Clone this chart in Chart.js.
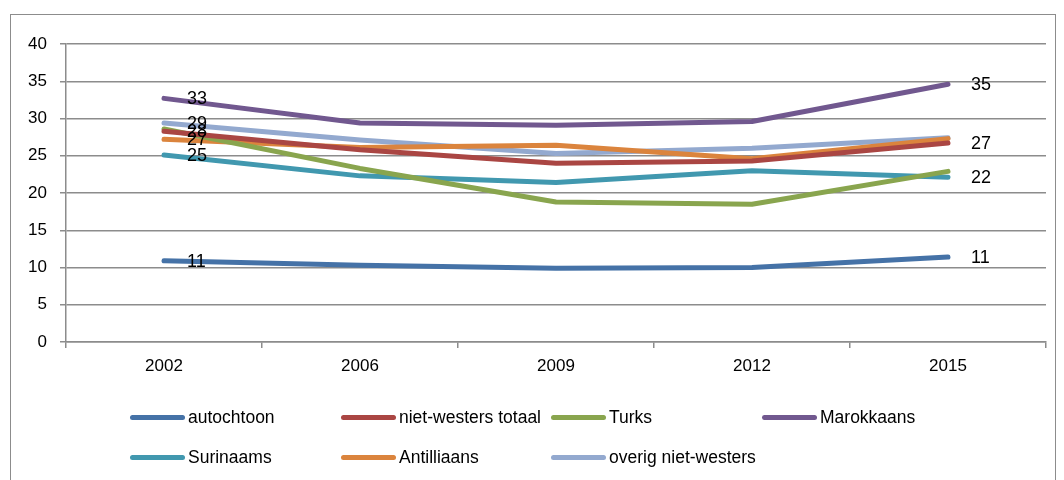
<!DOCTYPE html>
<html><head><meta charset="utf-8">
<script src="https://cdn.jsdelivr.net/npm/chart.js@4.4.1/dist/chart.umd.min.js"></script>
<style>
html,body{margin:0;padding:0;background:#fff;}
#wrap{position:relative;width:1064px;height:480px;overflow:hidden;font-family:"Liberation Sans",Arial,sans-serif;}
#frame{position:absolute;left:10px;top:14px;width:1046px;height:480px;border:1.5px solid #8c8c8c;box-sizing:border-box;}
canvas{position:absolute;left:0;top:0;}
#legend{position:absolute;left:0;top:0;width:1064px;height:480px;pointer-events:none;}
.li{position:absolute;display:flex;align-items:center;font-size:17.5px;color:#000;white-space:nowrap;}
.sw{width:55px;height:5px;border-radius:3px;margin-right:3px;}
</style></head>
<body>
<div id="wrap">
<div id="frame"></div>
<canvas id="c" width="1064" height="480"></canvas>
<div id="legend"></div>
</div>
<script>
const years = ['2002','2006','2009','2012','2015'];
const seriesNames = ['autochtoon','niet-westers totaal','Turks','Marokkaans','Surinaams','Antilliaans','overig niet-westers'];
const autochtoon = [10.9, 10.3, 9.9, 10.0, 11.4];
const nietWestersTotaal = [28.3, 25.8, 24.0, 24.3, 26.7];
const turks = [28.6, 23.3, 18.8, 18.5, 22.9];
const marokkaans = [32.7, 29.4, 29.1, 29.6, 34.6];
const surinaams = [25.1, 22.3, 21.4, 23.0, 22.1];
const antilliaans = [27.2, 26.1, 26.4, 24.6, 27.3];
const overig = [29.4, 27.1, 25.3, 26.0, 27.4];
const colors = ['#4572A7','#AA4643','#89A54E','#71588F','#4198AF','#DB843D','#93A9CF'];
// which series carry a value label at the first / last year
const labelFirst = [true, true, false, true, true, true, true];
const labelLast  = [true, true, false, true, true, false, false];
const yTicks = [0,5,10,15,20,25,30,35,40];

const allData = [autochtoon, nietWestersTotaal, turks, marokkaans, surinaams, antilliaans, overig];

const labelPlugin = {
  id:'endLabels',
  afterDatasetsDraw(chart){
    const ctx = chart.ctx;
    ctx.save();
    ctx.font = '18px "Liberation Sans", Arial, sans-serif';
    ctx.fillStyle = '#000';
    ctx.textAlign = 'left';
    ctx.textBaseline = 'middle';
    chart.data.datasets.forEach((ds, i) => {
      const meta = chart.getDatasetMeta(i);
      const idx = [];
      if (labelFirst[i]) idx.push(0);
      if (labelLast[i]) idx.push(ds.data.length - 1);
      idx.forEach(j => {
        const p = meta.data[j];
        ctx.fillText(String(Math.round(ds.data[j])), p.x + 23, p.y + 1);
      });
    });
    ctx.restore();
  }
};

new Chart(document.getElementById('c'), {
  type:'line',
  data:{
    labels: years,
    datasets: seriesNames.map((n,i)=>({
      label:n, data: allData[i], borderColor: colors[i], backgroundColor: colors[i],
      borderWidth:5, pointRadius:0, tension:0, borderCapStyle:'round', borderJoinStyle:'round', fill:false
    }))
  },
  options:{
    responsive:false, animation:false,
    layout:{padding:{left:0, top:44, right:18, bottom:0}},
    plugins:{legend:{display:false}, tooltip:{enabled:false}},
    scales:{
      x:{
        offset:true,
        grid:{offset:true, drawOnChartArea:false, drawTicks:true, tickLength:6, color:'#8c8c8c', lineWidth:1.5},
        border:{display:true, color:'#8c8c8c', width:1.5},
        ticks:{color:'#000', font:{size:17, family:'"Liberation Sans", Arial, sans-serif'}, padding:8, maxRotation:0},
        afterFit(s){ s.height = 138; }
      },
      y:{
        min:0, max:40,
        afterBuildTicks(s){ s.ticks = yTicks.map(v=>({value:v})); },
        grid:{color:'#8c8c8c', lineWidth:1.5, drawTicks:true, tickLength:6},
        border:{display:true, color:'#8c8c8c', width:1.5},
        ticks:{color:'#000', font:{size:17, family:'"Liberation Sans", Arial, sans-serif'}, padding:13},
        afterFit(s){ s.width = 66; }
      }
    }
  },
  plugins:[labelPlugin]
});

const legendPos = [[130,417],[341,417],[551,417],[762,417],[130,457],[341,457],[551,457]];
const lg = document.getElementById('legend');
seriesNames.forEach((n,i)=>{
  const d = document.createElement('div');
  d.className='li';
  d.style.left = legendPos[i][0]+'px';
  d.style.top = (legendPos[i][1]-10)+'px';
  d.style.height='20px';
  const s = document.createElement('span'); s.className='sw'; s.style.background = colors[i];
  const t = document.createElement('span'); t.textContent = n;
  d.appendChild(s); d.appendChild(t);
  lg.appendChild(d);
});
</script>
</body></html>
